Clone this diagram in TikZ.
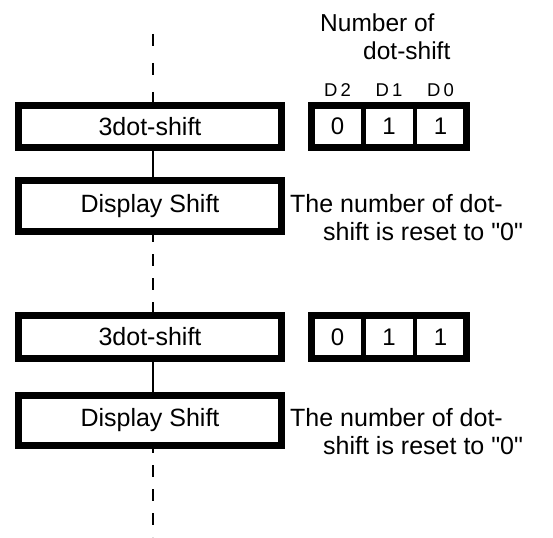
\documentclass[tikz,border=0pt]{standalone}
\usepackage{fontspec}
\setmainfont{Liberation Sans}[Ligatures=TeXOff]
\usetikzlibrary{positioning}

\begin{document}
\begin{tikzpicture}[x=1pt, y=-1pt,
    block/.style={draw, line width=7pt, minimum width=263pt, minimum height=42pt,
      inner sep=0pt, outer sep=0pt, font=\fontsize{25}{28}\selectfont},
    cell/.style={draw, line width=4.5pt, minimum width=51.5pt, minimum height=42pt,
      inner sep=0pt, outer sep=0pt, font=\fontsize{24}{28}\selectfont},
    dlabel/.style={anchor=base, inner sep=0pt, font=\fontsize{18.5}{20}\selectfont},
    remark/.style={anchor=base west, align=left, inner sep=0pt, font=\fontsize{25}{28}\selectfont},
    guide/.style={line width=1.8pt, dash pattern=on 12pt off 12pt},
    link/.style={line width=1.3pt}]
    \useasboundingbox (0,0) rectangle (553,537);

    % first shift
    \node[block] (shift1) at (150,126.5) {3dot-shift};
    \node[block, minimum height=51pt] (disp1) at (150,206) {Display Shift};
    \node[remark] (note1) at (290,240) {The number of dot-\\\hspace*{33pt}shift is reset to "0"};

    \node[cell] (c12) at (337.5,126.5) {0};
    \node[cell, right=0pt of c12] (c11) {1};
    \node[cell, right=0pt of c11] (c10) {1};
    \draw[line width=7pt] (c12.north west) rectangle (c10.south east);
    \node[dlabel] (d2) at ([yshift=8.5pt]c12.north) {D\kern3pt{}2};
    \node[dlabel] (d1) at ([yshift=8.5pt]c11.north) {D\kern3pt{}1};
    \node[dlabel] (d0) at ([yshift=8.5pt]c10.north) {D\kern3pt{}0};
    \node[remark, font=\fontsize{24.5}{28}\selectfont] (head) at (320,60) {Number of\\\hspace*{43pt}dot-shift};

    % second shift
    \node[block, minimum height=43pt] (shift2) at (150,337) {3dot-shift};
    \node[block, minimum height=50pt] (disp2) at (150,420.5) {Display Shift};
    \node[remark] (note2) at (290,454.5) {The number of dot-\\\hspace*{33pt}shift is reset to "0"};

    \node[cell, minimum height=43pt] (c22) at (337.5,337) {0};
    \node[cell, minimum height=43pt, right=0pt of c22] (c21) {1};
    \node[cell, minimum height=43pt, right=0pt of c21] (c20) {1};
    \draw[line width=7pt] (c22.north west) rectangle (c20.south east);

    % time axis
    \coordinate (top) at (153,34);
    \coordinate (bottom) at (153,537);
    \draw[guide, dash pattern=on 12pt off 17pt] (top) -- (top |- shift1.north);
    \draw[link] (top |- shift1.south) -- (top |- disp1.north);
    \draw[guide, dash phase=1.5pt] (top |- disp1.south) -- (top |- shift2.north);
    \draw[link] (top |- shift2.south) -- (top |- disp2.north);
    \draw[guide, dash phase=4.5pt] (top |- disp2.south) -- (bottom);
\end{tikzpicture}
\end{document}
